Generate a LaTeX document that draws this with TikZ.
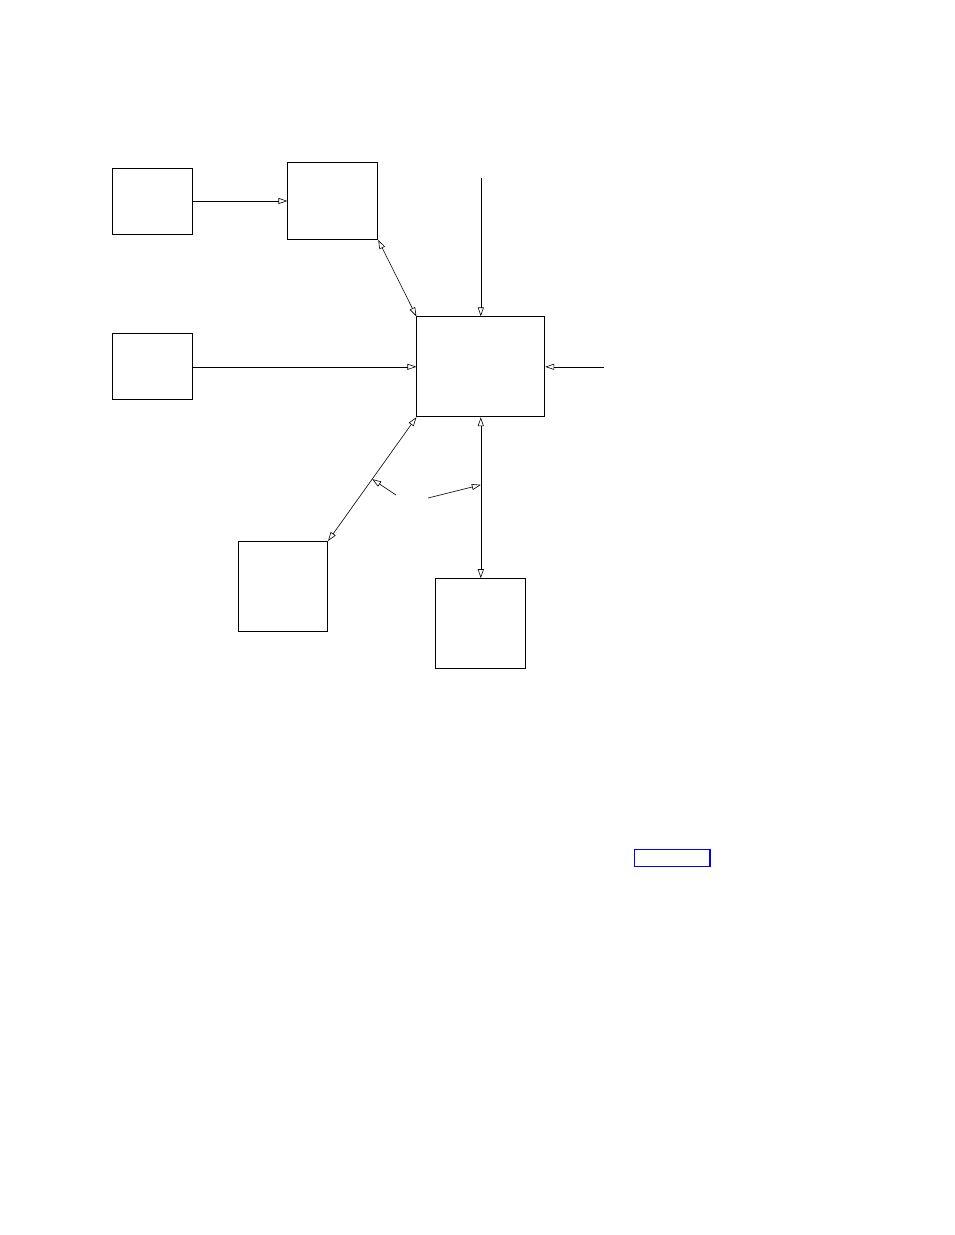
\documentclass[tikz,border=0pt]{standalone}
\usepackage{tikz}
\usetikzlibrary{arrows.meta}
\usetikzlibrary{positioning}
\tikzset{>={Triangle[open,length=9pt,width=6pt]}}

\begin{document}
\begin{tikzpicture}[x=1pt, y=-1pt, node distance = 1cm,
    blk/.style = {draw, line width=0.8pt, inner sep=0pt},
    con/.style = {line width=0.6pt}]
      \useasboundingbox (0,0) rectangle (954,1235);

      \node[blk, minimum width=80pt, minimum height=66pt] (src) at (152,201) {};
      \node[blk, minimum width=90pt, minimum height=77pt, right = 95pt of src] (buf) {};
      \node[blk, minimum width=80pt, minimum height=66pt, below = 99pt of src] (inp) {};
      \node[blk, minimum width=128pt, minimum height=100pt, right = 224pt of inp] (core) {};
      \node[blk, minimum width=89pt, minimum height=90pt, anchor=north east] (lft) at (328,541) {};
      \node[blk, minimum width=90pt, minimum height=90pt, below = 161pt of core] (bot) {};

      \coordinate[above = 138pt of core.north] (top);
      \coordinate[right = 59pt of core.east] (rgt);

      \draw[con,->] (src) -- (buf);
      \draw[con,->] (inp) -- (core);
      \draw[con,->] (top) -- (core.north);
      \draw[con,->] (rgt) -- (core.east);

      \draw[con,<->] (buf.south east) -- (core.north west);
      \draw[con,<->] (core.south west) -- coordinate[pos=.5] (tapl) (lft.north east);
      \draw[con,<->] (core.south) -- coordinate[pos=.42] (tapb) (bot.north);

      \coordinate (ptl) at (396,495);
      \coordinate (ptb) at (428,498);
      \draw[con,->] (ptl) -- (tapl);
      \draw[con,->] (ptb) -- (tapb);

      % link frame
      \node[draw=blue, line width=1pt, inner sep=0pt, minimum width=75pt, minimum height=17pt] (lnk) at (671.5,857.5) {};
      \draw[blue, line width=2pt] (lnk.north east) -- (lnk.south east);

    \end{tikzpicture}
\end{document}
